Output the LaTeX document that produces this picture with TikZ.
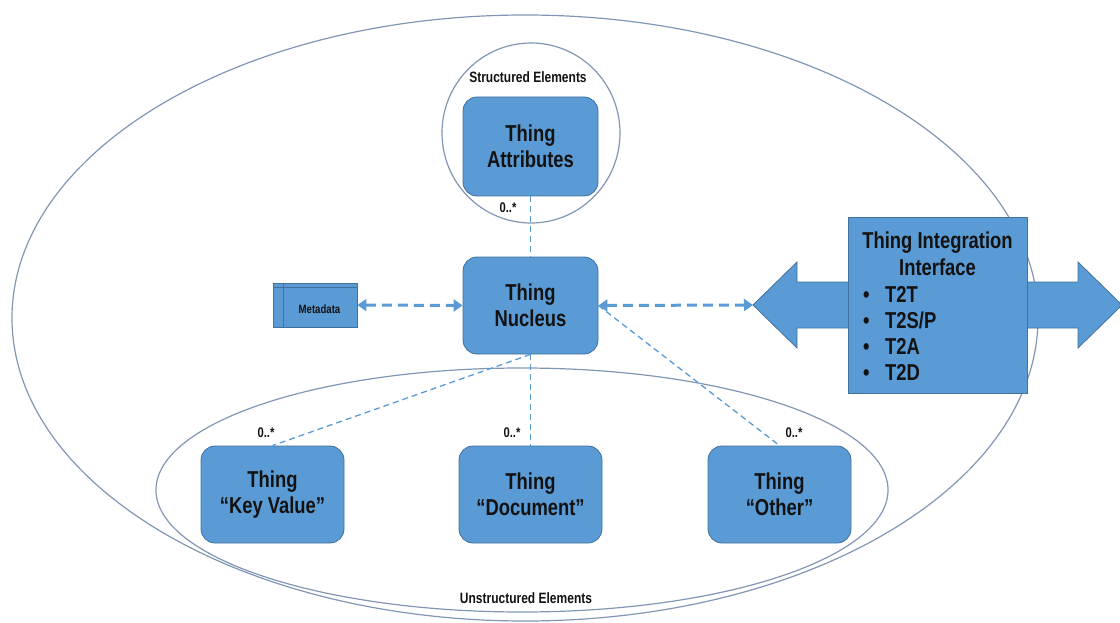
\documentclass[tikz,border=0pt]{standalone}
\usepackage{fontspec}
\newfontfamily\cf{Liberation Sans}[FakeStretch=0.8]
\usetikzlibrary{arrows.meta}
\definecolor{fillb}{HTML}{5B9BD5}
\definecolor{edgeb}{HTML}{41719C}
\definecolor{ring}{HTML}{8196B4}
\definecolor{ink}{HTML}{121212}
\begin{document}
\begin{tikzpicture}[x=1pt,y=-1pt,
  thingbox/.style={draw=edgeb, line width=0.8pt, fill=fillb, rounded corners=14pt,
    minimum width=135pt, minimum height=97pt, align=center, text=ink,
    font=\cf\bfseries\fontsize{23}{26}\selectfont},
  ringline/.style={draw=ring, line width=1.2pt},
  smalltxt/.style={text=ink, font=\cf\bfseries\fontsize{14}{16}\selectfont, inner sep=0pt},
  linkthin/.style={draw=fillb, line width=1.3pt, dash pattern=on 6pt off 4pt},
  linkthick/.style={draw=fillb, line width=3pt, dash pattern=on 10pt off 6pt,
    {Triangle[length=9pt,width=12pt]}-{Triangle[length=9pt,width=12pt]}}
]
\useasboundingbox (0,0) rectangle (1120,623);

% containers
\draw[ringline] (525,318) ellipse [x radius=513pt, y radius=303pt];
\draw[ringline] (531,133) ellipse [x radius=89pt, y radius=90pt];
\draw[ringline] (522,490) ellipse [x radius=366pt, y radius=122pt];

% integration double arrow and box
\draw[draw=edgeb, line width=0.8pt, fill=fillb]
  (753,305) -- (797,262) -- (797,282) -- (1078,282) -- (1078,262) -- (1122,305)
  -- (1078,348) -- (1078,328) -- (797,328) -- (797,348) -- cycle;
\coordinate (ltip) at (753,305);
\node[draw=edgeb, line width=0.8pt, fill=fillb, minimum width=179pt, minimum height=176pt] (iface) at (937.5,305) {};
\node[align=center, text=ink, font=\cf\bfseries\fontsize{23}{27}\selectfont, inner sep=0pt] (ifacetitle) at (937.5,254) {Thing Integration\\Interface};
\node[align=left, anchor=west, text=ink, font=\cf\bfseries\fontsize{23}{26}\selectfont, inner sep=0pt] (ifacelist) at (863,333)
  {\makebox[22pt][l]{\textbullet}T2T\\\makebox[22pt][l]{\textbullet}T2S/P\\\makebox[22pt][l]{\textbullet}T2A\\\makebox[22pt][l]{\textbullet}T2D};

% thing nodes
\node[thingbox, minimum height=99pt] (attr) at (530.5,146.5) {Thing\\Attributes};
\node[thingbox] (nuc) at (530.5,305.5) {Thing\\Nucleus};
\node[thingbox, minimum width=143pt] (kv) at (272.5,494.5) {Thing\\“Key Value”};
\node[thingbox, minimum width=143pt] (doc) at (530.5,494.5) {Thing\\“Document”};
\node[thingbox, minimum width=143pt] (oth) at (779.5,494.5) {Thing\\“Other”};

% metadata
\node[draw=edgeb, line width=0.8pt, fill=fillb, minimum width=84pt, minimum height=44pt, inner sep=0pt] (meta) at (315,305) {};
\draw[edgeb, line width=0.8pt] ([xshift=11pt]meta.north west) -- ([xshift=11pt]meta.south west);
\draw[edgeb, line width=0.8pt] ([yshift=-5pt]meta.north west) -- ([yshift=-5pt]meta.north east);
\node[text=ink, font=\cf\bfseries\fontsize{12}{14}\selectfont, inner sep=0pt] (metatext) at (319.5,309) {Metadata};

% labels
\node[smalltxt, font=\cf\bfseries\fontsize{15}{17}\selectfont] (slab) at (528,77) {Structured Elements};
\node[smalltxt, font=\cf\bfseries\fontsize{15}{17}\selectfont] (ulab) at (526,598) {Unstructured Elements};
\node[smalltxt] (m1) at (508,208) {0..*};
\node[smalltxt] (m2) at (266,433) {0..*};
\node[smalltxt] (m3) at (512,433) {0..*};
\node[smalltxt] (m4) at (794,433) {0..*};

% connectors
\draw[linkthin] (attr.south) -- (nuc.north);
\draw[linkthin] (nuc.south) -- (kv.north);
\draw[linkthin] (nuc.south) -- (doc.north);
\draw[linkthin] (nuc.east) -- (oth.north);
\draw[linkthick] (meta.east) -- (nuc.west);
\draw[linkthick] (nuc.east) -- (ltip);
\end{tikzpicture}
\end{document}
